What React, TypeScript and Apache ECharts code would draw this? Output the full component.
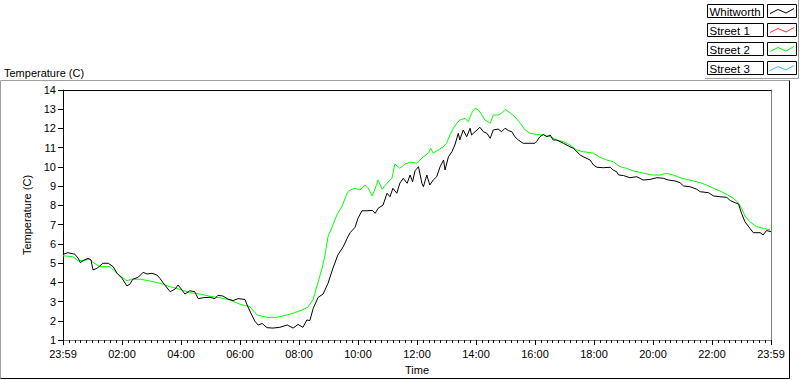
import React, { useEffect, useRef } from "react";
import * as echarts from "echarts";

// Time in minutes after 00:00 (0 = start "23:59", 1440 = end "23:59")
const whitworthTime = [
  0, 10, 24, 31, 35, 41, 51, 57, 61, 69, 75, 81, 92, 102, 110, 120, 130, 136, 142, 153,
  163, 171, 181, 191, 197, 207, 218, 228, 234, 242, 248, 258, 268, 275, 285, 299, 309, 315, 325, 336,
  346, 356, 370, 376, 384, 391, 397, 405, 415, 427, 441, 456, 468, 478, 488, 496, 502, 509, 519, 529,
  539, 549, 559, 570, 578, 584, 594, 600, 608, 618, 629, 635, 641, 651, 659, 665, 671, 679, 685, 692,
  700, 706, 711, 716, 723, 730, 733, 740, 746, 753, 760, 767, 774, 777, 784, 791, 797, 804, 807, 814,
  821, 828, 831, 838, 848, 855, 862, 869, 875, 885, 892, 899, 906, 913, 919, 926, 936, 960, 963, 970,
  977, 984, 991, 997, 1004, 1018, 1031, 1038, 1052, 1058, 1072, 1079, 1086, 1099, 1113, 1119, 1126, 1130, 1140, 1153,
  1167, 1180, 1194, 1208, 1221, 1231, 1245, 1255, 1262, 1275, 1289, 1296, 1313, 1323, 1336, 1350, 1357, 1367, 1374, 1380,
  1387, 1397, 1404, 1418, 1424, 1431, 1440,
];
const whitworthTemp = [
  5.46, 5.54, 5.46, 5.25, 5.03, 5.12, 5.25, 5.16, 4.64, 4.73, 4.85, 4.99, 4.99, 4.81, 4.47, 4.21, 3.81, 3.9, 4.16, 4.26,
  4.52, 4.43, 4.47, 4.38, 4.21, 3.86, 3.51, 3.65, 3.86, 3.6, 3.39, 3.56, 3.51, 3.15, 3.2, 3.22, 3.15, 3.32, 3.29, 3.12,
  3.05, 3.15, 3.11, 2.73, 2.3, 1.95, 1.78, 1.86, 1.64, 1.62, 1.66, 1.78, 1.62, 1.81, 1.66, 2.04, 2.01, 2.65, 3.22, 3.39,
  3.95, 4.73, 5.42, 5.85, 6.29, 6.58, 6.86, 7.33, 7.72, 7.72, 7.74, 7.59, 7.85, 8.02, 8.63, 8.45, 8.89, 8.63, 9.15, 9.41,
  9.15, 9.58, 9.23, 9.8, 10.01, 9.15, 8.97, 9.58, 9.06, 9.32, 9.49, 10.01, 10.36, 9.84, 10.53, 10.79, 11.14, 11.75, 11.4, 11.92,
  11.57, 12.01, 11.66, 11.83, 12.06, 11.83, 11.75, 11.49, 11.92, 11.97, 11.83, 12.01, 11.89, 11.83, 11.57, 11.4, 11.23, 11.23, 11.31, 11.57,
  11.69, 11.57, 11.66, 11.4, 11.4, 11.23, 11.05, 10.97, 10.62, 10.53, 10.36, 10.1, 9.98, 9.96, 9.98, 9.84, 9.75, 9.58, 9.55, 9.44,
  9.49, 9.32, 9.35, 9.44, 9.41, 9.32, 9.27, 9.18, 9.01, 8.97, 8.84, 8.71, 8.66, 8.49, 8.45, 8.42, 8.25, 8.14, 8.07, 7.59,
  7.15, 6.81, 6.58, 6.58, 6.46, 6.69, 6.63,
];

const street2Time = [
  0, 20, 31, 45, 55, 61, 75, 96, 106, 116, 130, 140, 157, 177, 197, 218, 238, 258, 279, 299,
  319, 340, 360, 380, 395, 415, 435, 447, 468, 486, 498, 509, 519, 527, 533, 539, 549, 557, 567, 578,
  584, 594, 604, 614, 620, 629, 635, 641, 649, 659, 669, 675, 685, 696, 706, 720, 726, 733, 743, 748,
  753, 763, 774, 780, 787, 794, 801, 807, 818, 824, 831, 838, 845, 852, 858, 869, 875, 885, 892, 899,
  909, 919, 930, 940, 950, 963, 977, 991, 1004, 1018, 1031, 1045, 1058, 1072, 1079, 1092, 1106, 1119, 1133, 1146,
  1160, 1177, 1197, 1214, 1228, 1241, 1255, 1269, 1282, 1296, 1309, 1323, 1336, 1350, 1364, 1374, 1380, 1387, 1397, 1411,
  1424, 1438,
];
const street2Temp = [
  5.38, 5.33, 5.12, 5.16, 5.19, 5.04, 4.81, 4.81, 4.55, 4.34, 4.08, 4.16, 4.16, 4.07, 3.95, 3.77, 3.63, 3.46, 3.39, 3.27,
  3.2, 3.08, 2.86, 2.73, 2.3, 2.18, 2.18, 2.25, 2.39, 2.56, 2.7, 3.12, 4.03, 4.73, 5.42, 6.37, 6.98, 7.5, 7.93, 8.63,
  8.8, 8.89, 8.8, 9.06, 8.93, 8.49, 8.89, 9.32, 8.84, 9.15, 9.41, 10.15, 9.93, 10.15, 10.25, 10.19, 10.36, 10.53, 10.71, 10.97,
  10.71, 10.88, 11.05, 11.23, 11.66, 12.01, 12.27, 12.44, 12.53, 12.35, 12.79, 13.05, 12.96, 12.7, 12.44, 12.27, 12.7, 12.7, 12.79, 12.99,
  12.82, 12.61, 12.27, 11.92, 11.75, 11.69, 11.66, 11.57, 11.4, 11.31, 11.14, 10.88, 10.79, 10.74, 10.71, 10.5, 10.36, 10.27, 10.01, 9.93,
  9.79, 9.7, 9.58, 9.58, 9.67, 9.58, 9.44, 9.35, 9.27, 9.18, 9.06, 8.89, 8.75, 8.57, 8.37, 8.11, 7.85, 7.45, 7.15, 6.89,
  6.81, 6.72,
];

const street1Time: number[] = [];
const street1Temp: number[] = [];
const street3Time: number[] = [];
const street3Temp: number[] = [];

const seriesNames = ["Whitworth", "Street 1", "Street 2", "Street 3"];
const seriesColors = ["#000000", "#ff3030", "#00ff00", "#30c0ff"];

const xTickLabels = [
  "23:59", "02:00", "04:00", "06:00", "08:00", "10:00", "12:00",
  "14:00", "16:00", "18:00", "20:00", "22:00", "23:59",
];
const yMin = 1;
const yMax = 14;

const FONT = "'Liberation Sans', Arial, sans-serif";

function zip(t: number[], v: number[]) {
  return t.map((x, i) => [x, v[i]]);
}

export default function App() {
  const ref = useRef<HTMLDivElement>(null);
  useEffect(() => {
    if (!ref.current) return;
    const chart = echarts.init(ref.current, undefined, { renderer: "svg" });

    const seriesData = [
      zip(whitworthTime, whitworthTemp),
      zip(street1Time, street1Temp),
      zip(street2Time, street2Temp),
      zip(street3Time, street3Temp),
    ];

    const graphics: any[] = [
      {
        type: "text",
        x: 4,
        y: 72.5,
        style: {
          text: "Temperature (C)",
          font: `11px ${FONT}`,
          fill: "#000",
          textVerticalAlign: "middle",
          verticalAlign: "middle",
        },
      },
      {
        type: "polyline",
        shape: { points: [[0.5, 378.5], [0.5, 80.5], [789.5, 80.5]] },
        style: { stroke: "#a0a0a0", fill: null, lineWidth: 1 },
      },
      {
        type: "polyline",
        shape: { points: [[0.5, 378.5], [789.5, 378.5], [789.5, 80.5]] },
        style: { stroke: "#000000", fill: null, lineWidth: 1 },
      },
      {
        type: "polyline",
        shape: { points: [[705, 78.5], [798.5, 78.5], [798.5, 0]] },
        style: { stroke: "#a0a0a0", fill: null, lineWidth: 1 },
      },
    ];
    seriesNames.forEach((name, i) => {
      const top = 4 + 19 * i;
      graphics.push(
        {
          type: "rect",
          shape: { x: 707.5, y: top + 0.5, width: 56, height: 13 },
          style: { stroke: "#000", fill: "#fff", lineWidth: 1 },
        },
        {
          type: "text",
          x: 709.5,
          y: top + 7.5,
          style: {
            text: name,
            font: `11.5px ${FONT}`,
            fill: "#000",
            textVerticalAlign: "middle",
            verticalAlign: "middle",
          },
        },
        {
          type: "rect",
          shape: { x: 767.5, y: top + 0.5, width: 29, height: 13 },
          style: { stroke: "#000", fill: "#fff", lineWidth: 1 },
        },
        {
          type: "polyline",
          shape: {
            points: [
              [770, top + 9.5],
              [778, top + 5.5],
              [786, top + 9],
              [794, top + 4.5],
            ],
          },
          style: { stroke: seriesColors[i], fill: null, lineWidth: 1 },
        }
      );
    });

    chart.setOption({
      animation: false,
      backgroundColor: "#ffffff",
      textStyle: { fontFamily: FONT },
      grid: {
        left: 63,
        right: 29,
        top: 90,
        bottom: 40,
        containLabel: false,
        outerBoundsMode: "none",
      },
      xAxis: [
        {
          type: "value",
          position: "bottom",
          min: 0,
          max: 1440,
          interval: 120,
          name: "Time",
          nameLocation: "middle",
          nameGap: 24,
          nameTextStyle: { color: "#000", fontSize: 11, fontFamily: FONT },
          axisLine: { show: true, onZero: false, lineStyle: { color: "#808080", width: 1 } },
          axisTick: { show: true, length: 5, lineStyle: { color: "#000" } },
          minorTick: { show: true, splitNumber: 10, length: 3, lineStyle: { color: "#000" } },
          axisLabel: {
            color: "#000",
            fontSize: 11,
            fontFamily: FONT,
            margin: 8,
            showMinLabel: true,
            showMaxLabel: true,
            formatter: (v: number) => xTickLabels[Math.round(v / 120)] ?? "",
          },
          splitLine: { show: false },
        },
        {
          type: "value",
          position: "top",
          min: 0,
          max: 1440,
          axisLine: { show: true, onZero: false, lineStyle: { color: "#000", width: 1 } },
          axisTick: { show: false },
          axisLabel: { show: false },
          splitLine: { show: false },
        },
      ],
      yAxis: [
        {
          type: "value",
          position: "left",
          min: yMin,
          max: yMax,
          interval: 1,
          name: "Temperature (C)",
          nameLocation: "middle",
          nameGap: 24,
          nameTextStyle: { color: "#000", fontSize: 11, fontFamily: FONT },
          axisLine: { show: true, onZero: false, lineStyle: { color: "#000", width: 1 } },
          axisTick: { show: true, length: 5, lineStyle: { color: "#000" } },
          axisLabel: { color: "#000", fontSize: 11, fontFamily: FONT, margin: 7 },
          splitLine: { show: false },
        },
        {
          type: "value",
          position: "right",
          min: yMin,
          max: yMax,
          axisLine: { show: true, onZero: false, lineStyle: { color: "#808080", width: 1 } },
          axisTick: { show: false },
          axisLabel: { show: false },
          splitLine: { show: false },
        },
      ],
      series: seriesNames.map((name, i) => ({
        name,
        type: "line",
        xAxisIndex: 0,
        yAxisIndex: 0,
        data: seriesData[i],
        showSymbol: false,
        symbol: "none",
        z: i === 0 ? 4 : 3,
        lineStyle: { color: seriesColors[i], width: 1 },
        itemStyle: { color: seriesColors[i] },
      })),
      graphic: graphics,
    });

    return () => chart.dispose();
  }, []);

  return (
    <div
      ref={ref}
      style={{ position: "absolute", left: 0, top: 0, width: 800, height: 380 }}
    />
  );
}
